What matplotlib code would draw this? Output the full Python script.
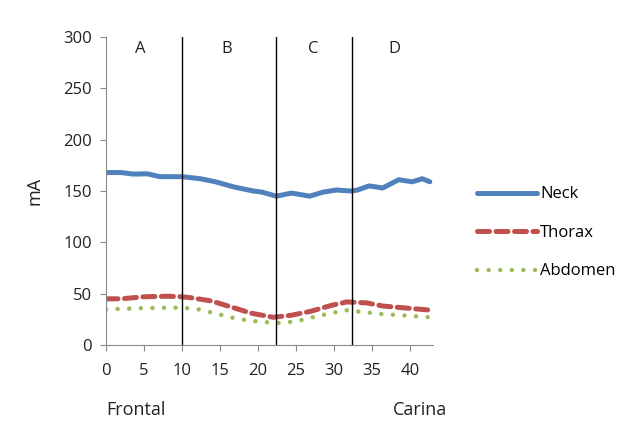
import numpy as np
import matplotlib
matplotlib.use('Agg')
import matplotlib.pyplot as plt

# readings (position index vs. tube current)
neck_x = [0, 2, 3.6, 5.4, 7.1, 10, 12.4, 14.4, 16.8, 19.4, 20.5, 22.4, 24.4, 26.8,
          28.6, 30.3, 32.2, 33.1, 34.6, 36.4, 38.5, 40.3, 41.6, 42.6]
neck_y = [168, 168, 166.5, 166.8, 164, 164, 162, 159, 154, 150, 149, 145, 148, 145,
          149, 151, 150, 151, 155, 153, 161, 159, 162, 159]

thorax_x = [0, 2, 5, 8, 10, 11.2, 13.8, 16.5, 19.1, 22, 24.4, 27, 29.6, 31.7,
            34.3, 36.4, 39.5, 42.6]
thorax_y = [45, 45, 47, 47.5, 47, 46, 43, 37, 31, 27, 29, 33, 38.5, 42,
            41, 38, 36, 34]

abdomen_x = [0, 3, 7, 10, 12.2, 14.8, 17.2, 19.8, 22.4, 25, 27.7, 30.3, 31.4,
             34, 36.4, 39, 42.6]
abdomen_y = [34.7, 35.5, 36.3, 36.3, 34.7, 30, 25.5, 23, 21.3, 23, 28, 32, 34,
             32, 30, 29, 27]

region_bounds = [10, 22.4, 32.3]
region_labels = ['A', 'B', 'C', 'D']
region_label_x = [4.5, 15.9, 27.2, 38]

plt.rcParams['font.family'] = ['Open Sans', 'DejaVu Sans']

fig = plt.figure(figsize=(6.31, 4.21), dpi=100)
ax = fig.add_axes([0.168, 0.1805, 0.518, 0.7315])

ax.plot(neck_x, neck_y, color='#4F81BD', lw=3.6, solid_capstyle='round', label='Neck')
ax.plot(thorax_x, thorax_y, color='#C0504D', lw=3.6, dashes=(2.4, 1.3),
        dash_capstyle='round', label='Thorax')
ax.plot(abdomen_x, abdomen_y, color='#9BBB59', lw=3.2, dashes=(0.01, 2.6),
        dash_capstyle='round', label='Abdomen')

for b in region_bounds:
    ax.axvline(b, color='black', lw=1)
for lab, lx in zip(region_labels, region_label_x):
    ax.text(lx, 288, lab, ha='center', va='center', fontsize=12, color='#222222')

ax.set_xlim(0, 43)
ax.set_ylim(0, 300)
ax.set_xticks(np.arange(0, 41, 5))
ax.set_yticks(np.arange(0, 301, 50))
for s in ['top', 'right']:
    ax.spines[s].set_visible(False)
for s in ['left', 'bottom']:
    ax.spines[s].set_color('#888888')
ax.tick_params(colors='#888888', labelcolor='#222222', labelsize=12, length=4)
ax.tick_params(axis='x', pad=9)
ax.tick_params(axis='y', pad=6)

ax.set_ylabel('mA', fontsize=13, color='#222222', labelpad=14)
fig.text(106 / 631, 1 - 410 / 421, 'Frontal', fontsize=13, color='#222222', va='center')
fig.text(420 / 631, 1 - 410 / 421, 'Carina', fontsize=13, color='#222222', va='center', ha='center')

ax.legend(loc='center left', bbox_to_anchor=(462 / 631, 1 - 233 / 421),
          bbox_transform=fig.transFigure, frameon=False, fontsize=12,
          handlelength=3.6, handletextpad=0.2, labelspacing=1.35)

fig.savefig('out.png', dpi=100)
